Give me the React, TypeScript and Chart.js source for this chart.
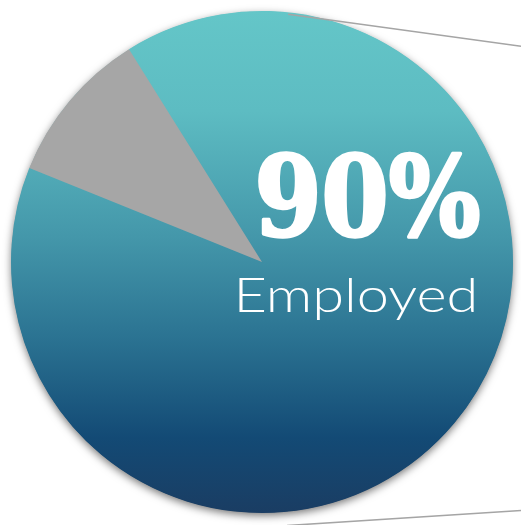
import React, { useEffect, useRef } from "react";
import { Chart, registerables } from "chart.js";

Chart.register(...registerables);

const categories = ["Employed", "Not employed"];
const values = [90, 10];
const headline = "90%";
const caption = "Employed";
const otherColor = "#A6A6A6";
const gradientStops: [number, string][] = [
  [0, "#64C6C8"],
  [0.2, "#5DBCC2"],
  [0.45, "#4497AA"],
  [0.65, "#2B7392"],
  [0.85, "#134A75"],
  [1, "#1A3D63"],
];

function makeGradient(chart: any) {
  const { ctx, chartArea } = chart;
  if (!chartArea) return gradientStops[0][1];
  const g = ctx.createLinearGradient(0, chartArea.top, 0, chartArea.bottom);
  gradientStops.forEach(([o, c]) => g.addColorStop(o, c));
  return g;
}

const decorPlugin = {
  id: "decor",
  beforeDatasetsDraw(chart: any) {
    const arc = chart.getDatasetMeta(0).data[0];
    if (!arc) return;
    const { x, y, outerRadius: r } = arc.getProps(["x", "y", "outerRadius"], true);
    const ctx = chart.ctx;
    ctx.save();
    ctx.strokeStyle = "#A5A5A5";
    ctx.lineWidth = 1.5;
    ctx.beginPath();
    ctx.moveTo(x + 0.1 * r, y + 1.05 * r);
    ctx.lineTo(chart.width, y + 0.99 * r);
    ctx.stroke();
    ctx.shadowColor = "rgba(0,0,0,0.55)";
    ctx.shadowBlur = 8;
    ctx.shadowOffsetX = 0;
    ctx.shadowOffsetY = 3;
    ctx.fillStyle = makeGradient(chart);
    ctx.beginPath();
    ctx.arc(x, y, r - 0.5, 0, Math.PI * 2);
    ctx.fill();
    ctx.restore();
  },
  afterDatasetsDraw(chart: any) {
    const arc = chart.getDatasetMeta(0).data[0];
    if (!arc) return;
    const { x, y, outerRadius: r } = arc.getProps(["x", "y", "outerRadius"], true);
    const ctx = chart.ctx;
    ctx.save();
    const a = (6 * Math.PI) / 180;
    ctx.strokeStyle = "#A5A5A5";
    ctx.lineWidth = 1.5;
    ctx.beginPath();
    ctx.moveTo(x + Math.sin(a) * (r - 2), y - Math.cos(a) * (r - 2));
    ctx.lineTo(chart.width, y - 0.86 * r);
    ctx.stroke();

    ctx.fillStyle = "#FFFFFF";
    ctx.strokeStyle = "#FFFFFF";
    ctx.textAlign = "center";
    ctx.textBaseline = "alphabetic";
    ctx.font = "bold 110px 'DejaVu Serif'";
    const hx = x + 0.42 * r;
    const hy = y - 0.108 * r;
    const targetW = 0.9 * r;
    const w = ctx.measureText(headline).width;
    ctx.save();
    ctx.translate(hx, hy);
    ctx.scale(targetW / w, 1);
    ctx.lineWidth = 3.5;
    ctx.lineJoin = "round";
    ctx.strokeText(headline, 0, 0);
    ctx.fillText(headline, 0, 0);
    ctx.restore();

    ctx.font = "300 47px Lato";
    const cx = x + 0.374 * r;
    const cy = y + 0.2 * r;
    const cTarget = 0.976 * r;
    const cw = ctx.measureText(caption).width;
    ctx.save();
    ctx.translate(cx, cy);
    ctx.scale(cTarget / cw, 1);
    ctx.fillText(caption, 0, 0);
    ctx.restore();
    ctx.restore();
  },
};

export default function App() {
  const ref = useRef<HTMLCanvasElement | null>(null);
  useEffect(() => {
    document.body.style.margin = "0";
    const canvas = ref.current;
    if (!canvas) return;
    const chart = new Chart(canvas, {
      type: "pie",
      data: {
        labels: categories,
        datasets: [
          {
            data: values,
            backgroundColor: (c: any) =>
              c.dataIndex === 0 ? makeGradient(c.chart) : otherColor,
            borderWidth: 0,
          },
        ],
      },
      options: {
        responsive: false,
        animation: false,
        rotation: -32,
        layout: { padding: { left: 11, top: 11, right: 8, bottom: 12 } },
        plugins: {
          legend: { display: false },
          tooltip: { enabled: false },
        },
      },
      plugins: [decorPlugin],
    });
    return () => chart.destroy();
  }, []);
  return (
    <div style={{ width: 521, height: 525, background: "#FFFFFF" }}>
      <canvas ref={ref} width={521} height={525} style={{ display: "block" }} />
    </div>
  );
}
